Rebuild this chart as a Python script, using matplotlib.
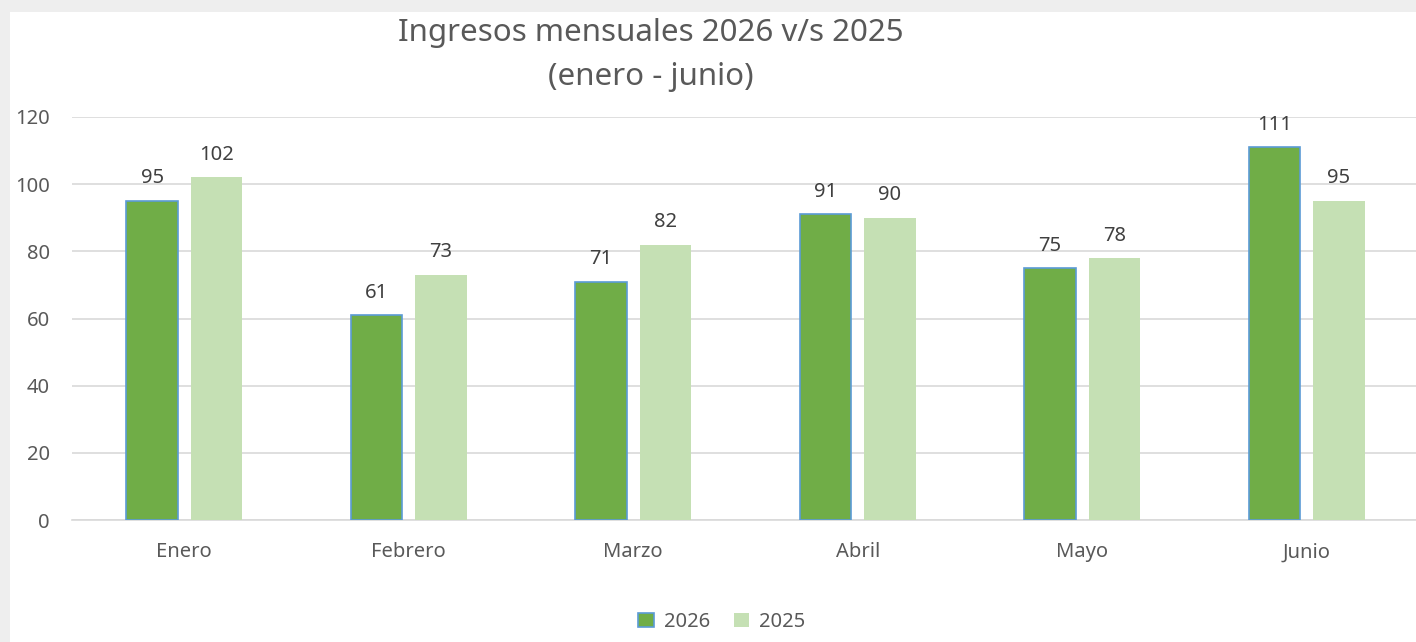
import matplotlib.pyplot as plt
import matplotlib.patches as patches
import numpy as np

meses = ["Enero", "Febrero", "Marzo", "Abril", "Mayo", "Junio"]
ingresos_2026 = [95, 61, 71, 91, 75, 111]
ingresos_2025 = [102, 73, 82, 90, 78, 95]
yticks = [0, 20, 40, 60, 80, 100, 120]

plt.rcParams['font.family'] = ['Noto Sans', 'DejaVu Sans']

fig = plt.figure(figsize=(14.16, 6.42), dpi=100, facecolor='#eeeeee')
# white chart area with a thin grey frame at the left and top
fig.patches.append(patches.Rectangle((10 / 1416, 0), 1, 1 - 12 / 642,
                                     transform=fig.transFigure, facecolor='white',
                                     edgecolor='none', zorder=-5))

ax = fig.add_axes([72 / 1416, 122 / 642, 1347 / 1416, 403 / 642])
ax.set_zorder(2)
ax.set_facecolor('none')

x = np.arange(len(meses))
w = 0.23
off = 0.143
b1 = ax.bar(x - off, ingresos_2026, w, color='#70AD47', edgecolor='#5B9BD5',
            linewidth=1.2, label='2026', zorder=3)
b2 = ax.bar(x + off, ingresos_2025, w, color='#C5E0B4', edgecolor='none',
            label='2025', zorder=3)

for bars, vals in [(b1, ingresos_2026), (b2, ingresos_2025)]:
    for rect, v in zip(bars, vals):
        ax.annotate(str(v), (rect.get_x() + rect.get_width() / 2, rect.get_height()),
                    xytext=(0, 9), textcoords='offset points', ha='center',
                    va='bottom', fontsize=14.5, color='#404040')

ax.set_xlim(-0.5, len(meses) - 0.5)
ax.set_ylim(0, 120)
ax.set_yticks(yticks)
ax.set_xticks(x)
ax.set_xticklabels(meses)
ax.tick_params(axis='both', length=0, labelsize=14.5, labelcolor='#595959')
ax.tick_params(axis='y', pad=16)
ax.tick_params(axis='x', pad=16)
ax.grid(axis='y', color='#d9d9d9', linewidth=1.2, zorder=0)
for s in ['top', 'right', 'left']:
    ax.spines[s].set_visible(False)
ax.spines['bottom'].set_color('#d9d9d9')
ax.spines['bottom'].set_linewidth(1.2)

fig.text(651 / 1416, 1 - 33 / 642, "Ingresos mensuales 2026 v/s 2025", ha='center',
         va='center', fontsize=22.5, color='#595959')
fig.text(651 / 1416, 1 - 77 / 642, "(enero - junio)", ha='center',
         va='center', fontsize=22.5, color='#595959')

fig.legend(handles=[b1, b2], loc='center', bbox_to_anchor=(722 / 1416, 20 / 642),
           ncol=2, frameon=False, fontsize=14.5, labelcolor='#595959',
           handlelength=0.75, handleheight=0.75, handletextpad=0.5, columnspacing=1.2)

fig.savefig('out.png', dpi=100, facecolor=fig.get_facecolor())
